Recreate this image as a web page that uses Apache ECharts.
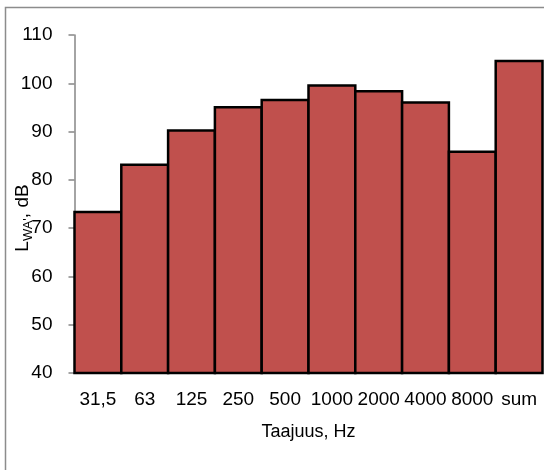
<!DOCTYPE html>
<html>
<head>
<meta charset="utf-8">
<script src="https://cdn.jsdelivr.net/npm/echarts@6/dist/echarts.min.js"></script>
<style>
    html, body { margin: 0; padding: 0; background: #fff; }
    #chart { width: 544px; height: 470px; }
</style>
</head>
<body>
<div id="chart"></div>
<script>
(function () {
    'use strict';

    var categories = ['31,5', '63', '125', '250', '500', '1000', '2000', '4000', '8000', 'sum'];
    var levels = [73.6, 83.4, 90.5, 95.3, 96.8, 99.8, 98.6, 96.3, 86.1, 104.9];

    var font = 'Liberation Sans, Arial, sans-serif';
    var gridLeft = 74.5;
    var gridRight = 1.5;
    var slot = (544 - gridLeft - gridRight) / categories.length;

    var myChart = echarts.init(document.getElementById('chart'), null, { renderer: 'canvas' });

    myChart.setOption({
        animation: false,
        graphic: [{
            type: 'rect',
            shape: { x: 5.5, y: 7.5, width: 600, height: 600 },
            style: { fill: 'none', stroke: '#8c8c8c', lineWidth: 1.5 },
            silent: true
        }],
        grid: {
            left: gridLeft,
            right: gridRight,
            top: 35,
            bottom: 97,
            containLabel: false,
            outerBoundsMode: 'none'
        },
        xAxis: {
            type: 'category',
            data: categories,
            name: 'Taajuus, Hz',
            nameLocation: 'middle',
            nameGap: 50,
            nameMoveOverlap: false,
            nameTextStyle: { fontFamily: font, fontSize: 18, color: '#000' },
            axisLine: { lineStyle: { color: '#868686', width: 1.5 } },
            axisTick: { show: false },
            axisLabel: { fontFamily: font, fontSize: 19, color: '#000', margin: 17, interval: 0, hideOverlap: false }
        },
        yAxis: {
            type: 'value',
            min: 40,
            max: 110,
            interval: 10,
            name: '{l|L}{s|WA\'}{l|, dB}',
            nameLocation: 'middle',
            nameGap: 40,
            nameMoveOverlap: false,
            nameTextStyle: {
                fontFamily: font,
                padding: [0, 28, 0, 0],
                rich: {
                    l: { fontFamily: font, fontSize: 19, color: '#000' },
                    s: { fontFamily: font, fontSize: 13, color: '#000', verticalAlign: 'bottom', padding: [10, 0, 0, 0] }
                }
            },
            axisLine: { show: true, lineStyle: { color: '#868686', width: 1.5 } },
            axisTick: { show: true, length: 6, lineStyle: { color: '#868686', width: 1.5 } },
            splitLine: { show: false },
            axisLabel: { fontFamily: font, fontSize: 19, color: '#000', margin: 22 }
        },
        series: [{
            type: 'bar',
            data: levels,
            barWidth: slot + 2.5,
            barCategoryGap: 0,
            itemStyle: {
                color: '#C0504D',
                borderColor: '#000',
                borderWidth: 2.5
            }
        }]
    });
}());
</script>
</body>
</html>
